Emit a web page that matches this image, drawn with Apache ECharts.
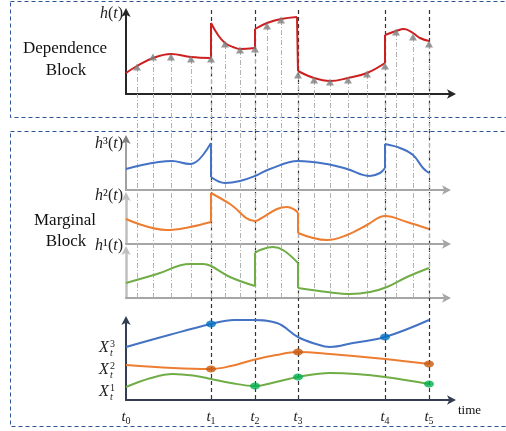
<!DOCTYPE html>
<html><head><meta charset="utf-8">
<script src="https://cdn.jsdelivr.net/npm/echarts@6/dist/echarts.min.js"></script>
<style>html,body{margin:0;padding:0;background:#fff}#c{width:506px;height:431px}</style>
</head><body><div id="c"></div>
<script>
// ---- data (time units along the shared time axis) ----
const tNames = ['0','1','2','3','4','5'];
const tValues = [0, 85, 129, 172, 259, 303];

// observation instants (arrows) and h(t) values at the arrow heads
const arrowT = [11,27,45,65,85,99,114,129,141,155,172,188,204,222,241,259,270,287,303];
const arrowH = [27,37,37,35,35,50,44,45,68,74,19,14,12,14,20,28,62,57,50];

// dependence h(t), piecewise segments
const hSeg1 = [[0,21],[11,28],[27,36],[45,40],[65,37],[85,36]];
const hSeg2 = [[85,71],[92,59],[99,51],[107,47],[114,45],[129,46]];
const hSeg3 = [[129,65],[141,71],[155,75],[171,77]];
const hSeg4 = [[172,23],[188,16],[204,13],[222,16],[241,21],[259,31]];
const hSeg5 = [[259,59],[270,63],[278,65],[287,61],[294,56],[303,53]];

// marginal h^3(t)
const h3Seg1 = [[0,21],[46,29],[64,26],[70,28],[77,35],[85,47]];
const h3Seg2 = [[85,13],[99,7],[114,9],[129,14],[144,21],[172,29],[201,26],[221,21],[244,14],[254,17],[259,22]];
const h3Seg3 = [[259,46],[274,42],[287,35],[297,22],[303,17]];
// marginal h^2(t)
const h2Seg1 = [[0,25],[41,14],[64,17],[85,22]];
const h2Seg2 = [[85,51],[104,40],[129,23],[134,25],[151,35],[161,37],[169,34],[172,31]];
const h2Seg3 = [[172,11],[201,4],[221,9],[241,19],[259,28],[281,22],[303,15]];
// marginal h^1(t)
const h1Seg1 = [[0,15],[31,24],[64,34],[77,34],[85,32],[104,21],[129,12]];
const h1Seg2 = [[129,45],[134,48],[147,51],[157,48],[172,35]];
const h1Seg3 = [[172,10],[201,6],[224,4],[244,6],[261,11],[281,21],[303,30]];

// observed series X_t
const x3 = [[0,53],[43,65],[85,76],[108,80],[127,80],[151,77],[172,63],[190,56],[204,53],[227,57],[259,63],[303,80]];
const x2 = [[0,35],[47,32],[85,31],[105,34],[127,40],[150,45],[172,48],[204,46],[259,41],[303,36]];
const x1 = [[0,13],[25,22],[47,26],[70,24],[85,21],[105,17],[129,14],[150,18],[172,23],[204,27],[230,26],[259,23],[303,16]];
const x3Dots = [[85,76],[259,63]];
const x2Dots = [[85,31],[172,48],[303,36]];
const x1Dots = [[129,14],[172,23],[303,16]];

// ---- chart ----
const chart = echarts.init(document.getElementById('c'), null, {renderer:'canvas'});
const SERIF = "'Liberation Serif','DejaVu Serif',serif";

function segSeries(segs, gi, color){
  const out = [];
  segs.forEach((s,i)=>{
    out.push({type:'line', xAxisIndex:gi, yAxisIndex:gi, data:s, smooth:0.4, showSymbol:false, clip:false,
      lineStyle:{color, width:2}, z:5, silent:true});
    if(i<segs.length-1){
      out.push({type:'line', xAxisIndex:gi, yAxisIndex:gi, data:[s[s.length-1], segs[i+1][0]], clip:false,
        showSymbol:false, lineStyle:{color, width:2}, z:5, silent:true});
    }
  });
  return out;
}

const grids = [
  {left:126, top:12, width:326, height:82},   // 0 top h(t)
  {left:126, top:139, width:321, height:51},  // 1 h3
  {left:126, top:196, width:321, height:48},  // 2 h2
  {left:126, top:250, width:321, height:48},  // 3 h1
  {left:126, top:320, width:326, height:80},  // 4 X
  {left:126, top:94, width:326, height:204},  // 5 link (hidden)
  {left:126, top:8, width:326, height:391}    // 6 overlay (hidden)
];
const yMax = [82, 51, 48, 48, 80, 1, 1];

function axisLine(color, width, arrow){
  return {show:true, onZero:false, lineStyle:{color, width},
    symbol: arrow ? ['none','arrow'] : 'none', symbolSize:[7,9], symbolOffset:[0,4]};
}
const axStyles = [
  {x:axisLine('#262626',2,true), y:axisLine('#262626',2,true)},
  {x:axisLine('#a6a6a6',2,true), y:axisLine('#808080',1.5,true)},
  {x:axisLine('#a6a6a6',2,true), y:axisLine('#bfbfbf',2.5,true)},
  {x:axisLine('#a6a6a6',2,true), y:axisLine('#bfbfbf',2.5,true)},
  {x:axisLine('#333f50',2,true), y:axisLine('#333f50',2,true)},
  null, null
];

const xAxis = grids.map((g,i)=>{
  const a = {type:'value', gridIndex:i, min:0, max:g.width, splitLine:{show:false},
    axisTick:{show:false}, axisLabel:{show:false}, axisLine:{show:false}};
  if(axStyles[i]) a.axisLine = axStyles[i].x;
  if(i===4){
    a.axisLabel = {show:true, customValues:tValues, margin:9,
      formatter:(v)=>'{i|t}{s|'+tNames[tValues.indexOf(v)]+'}',
      rich:{i:{fontFamily:SERIF, fontStyle:'italic', fontSize:15, color:'#222'},
            s:{fontFamily:SERIF, fontSize:10, color:'#222', verticalAlign:'bottom', padding:[7,0,0,0]}}};
  }
  return a;
});
const yAxis = grids.map((g,i)=>{
  const a = {type:'value', gridIndex:i, min:0, max:yMax[i], splitLine:{show:false},
    axisTick:{show:false}, axisLabel:{show:false}, axisLine:{show:false}};
  if(axStyles[i]) a.axisLine = axStyles[i].y;
  return a;
});

const series = [];
// black dashed lines at t1..t5
series.push({type:'line', xAxisIndex:6, yAxisIndex:6, data:[], z:2,
  markLine:{silent:true, symbol:'none', label:{show:false}, animation:false,
    lineStyle:{color:'#333', type:[4,3], width:1.2},
    data:tValues.slice(1).map(v=>({xAxis:v}))}});
// gray dash-dot lines from arrows down through marginal block
series.push({type:'line', xAxisIndex:5, yAxisIndex:5, data:[], z:1,
  markLine:{silent:true, symbol:'none', label:{show:false}, animation:false,
    lineStyle:{color:'#b3b3b3', type:[5,2,1,2], width:1},
    data:arrowT.map(v=>({xAxis:v}))}});
series.push({type:'line', xAxisIndex:0, yAxisIndex:0, data:[], z:1,
  markLine:{silent:true, symbol:'none', label:{show:false}, animation:false,
    lineStyle:{color:'#b3b3b3', type:[5,2,1,2], width:1},
    data:arrowT.map((t,i)=>[{coord:[t,arrowH[i]]},{coord:[t,0]}])}});

series.push(...segSeries([hSeg1,hSeg2,hSeg3,hSeg4,hSeg5], 0, '#cc1f1f'));
series.push({type:'scatter', xAxisIndex:0, yAxisIndex:0, data:arrowT.map((t,i)=>[t,arrowH[i]]),
  symbol:'triangle', symbolSize:[8,7], itemStyle:{color:'#7f7f7f'}, z:6, silent:true});

series.push(...segSeries([h3Seg1,h3Seg2,h3Seg3], 1, '#4472c4'));
series.push(...segSeries([h2Seg1,h2Seg2,h2Seg3], 2, '#ed7d31'));
series.push(...segSeries([h1Seg1,h1Seg2,h1Seg3], 3, '#70ad47'));

series.push(...segSeries([x3], 4, '#4472c4'));
series.push(...segSeries([x2], 4, '#ed7d31'));
series.push(...segSeries([x1], 4, '#70ad47'));
[[x3Dots,'#0070c0'],[x2Dots,'#c55a11'],[x1Dots,'#00b050']].forEach(([d,c])=>{
  series.push({type:'scatter', xAxisIndex:4, yAxisIndex:4, data:d, symbol:'circle',
    symbolSize:[10,7], itemStyle:{color:c}, z:7, silent:true});
});

function hLabel(sup, y){
  return {type:'text', z:20, x:123, y:y, style:{
    text: '{i|h}{n|'+sup+'(}{i|t}{n|)}', align:'right', verticalAlign:'middle',
    rich:{i:{fontFamily:SERIF, fontStyle:'italic', fontSize:16, fill:'#222'},
          n:{fontFamily:SERIF, fontSize:16, fill:'#222'}}}};
}
function xLabel(k, cy){
  return [
    {type:'text', z:20, x:99, y:cy, style:{text:'X', font:'italic 16px '+SERIF, fill:'#222', verticalAlign:'middle'}},
    {type:'text', z:20, x:110, y:cy-4, style:{text:k, font:'10px '+SERIF, fill:'#222', verticalAlign:'middle'}},
    {type:'text', z:20, x:110, y:cy+5, style:{text:'t', font:'italic 10px '+SERIF, fill:'#222', verticalAlign:'middle'}}
  ];
}

const graphic = [
  {type:'rect', shape:{x:10.5, y:1.5, width:520, height:116}, z:0,
    style:{fill:'none', stroke:'#2f5597', lineWidth:1, lineDash:[4,3]}},
  {type:'rect', shape:{x:10.5, y:131.5, width:520, height:295}, z:0,
    style:{fill:'none', stroke:'#2f5597', lineWidth:1, lineDash:[4,3]}},
  {type:'text', z:20, x:65, y:49, style:{text:'Dependence', font:'17px '+SERIF, fill:'#111', align:'center', verticalAlign:'middle'}},
  {type:'text', z:20, x:66, y:71, style:{text:'Block', font:'17px '+SERIF, fill:'#111', align:'center', verticalAlign:'middle'}},
  {type:'text', z:20, x:65, y:221, style:{text:'Marginal', font:'17px '+SERIF, fill:'#111', align:'center', verticalAlign:'middle'}},
  {type:'text', z:20, x:66, y:242, style:{text:'Block', font:'17px '+SERIF, fill:'#111', align:'center', verticalAlign:'middle'}},
  {type:'text', z:20, x:458, y:411, style:{text:'time', font:'13px '+SERIF, fill:'#111', align:'left', verticalAlign:'middle'}},
  hLabel('', 14), hLabel('\u00B3', 144), hLabel('\u00B2', 196), hLabel('\u00B9', 246),
  ...xLabel('3', 348), ...xLabel('2', 370), ...xLabel('1', 392)
];

chart.setOption({animation:false, backgroundColor:'#fff', grid:grids, xAxis, yAxis, series, graphic});
</script></body></html>
